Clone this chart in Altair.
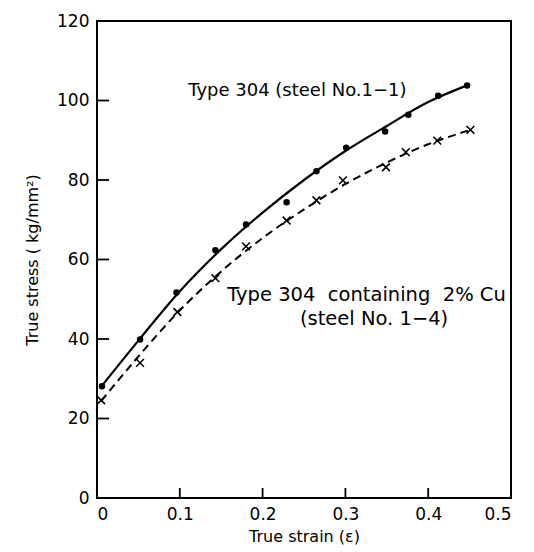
import altair as alt
import pandas as pd

# Measured points: Type 304 (steel No.1-1)
strain_304 = [0.006, 0.052, 0.096, 0.143, 0.180, 0.229, 0.265, 0.301, 0.348, 0.376, 0.412, 0.447]
stress_304 = [28.1, 39.9, 51.7, 62.3, 68.8, 74.4, 82.2, 88.1, 92.2, 96.4, 101.2, 103.8]
# Measured points: Type 304 containing 2% Cu (steel No.1-4)
strain_cu = [0.005, 0.052, 0.097, 0.143, 0.180, 0.229, 0.265, 0.297, 0.349, 0.373, 0.411, 0.451]
stress_cu = [24.6, 34.0, 46.8, 55.3, 63.3, 69.8, 74.9, 79.9, 83.2, 87.0, 89.9, 92.6]

# Fitted curves
curve_strain_304 = [0.005, 0.05, 0.1, 0.15, 0.2, 0.25, 0.3, 0.35, 0.4, 0.447]
curve_stress_304 = [28.0, 39.6, 52.0, 62.6, 71.8, 80.0, 87.3, 93.6, 99.6, 103.8]
curve_strain_cu = [0.005, 0.05, 0.1, 0.15, 0.2, 0.25, 0.3, 0.35, 0.4, 0.451]
curve_stress_cu = [24.4, 35.6, 47.2, 57.0, 65.4, 72.6, 79.0, 84.4, 89.0, 92.6]

x_tick_values = [0, 0.1, 0.2, 0.3, 0.4, 0.5]
y_tick_values = [0, 20, 40, 60, 80, 100, 120]
x_inner_ticks = [0.1, 0.2, 0.3, 0.4]
y_inner_ticks = [20, 40, 60, 80, 100]

label_304 = "Type 304 (steel No.1\u22121)"
label_cu_1 = "Type 304\u00a0 containing\u00a0 2% Cu"
label_cu_2 = "(steel No. 1\u22124)"

FONT = "DejaVu Sans"

xs = alt.Scale(domain=[0, 0.5], nice=False, zero=False)
ys = alt.Scale(domain=[0, 120], nice=False, zero=False)

x_axis = alt.Axis(values=x_tick_values, title="True strain (\u03b5)",
                  labelExpr="datum.value == 0 ? '0' : format(datum.value, '.1f')",
                  titlePadding=6)
y_axis = alt.Axis(values=y_tick_values, title="True stress ( kg/mm\u00b2)", titlePadding=16)

df304 = pd.DataFrame({"strain": strain_304, "stress": stress_304})
dfcu = pd.DataFrame({"strain": strain_cu, "stress": stress_cu})
c304 = pd.DataFrame({"strain": curve_strain_304, "stress": curve_stress_304})
ccu = pd.DataFrame({"strain": curve_strain_cu, "stress": curve_stress_cu})

line304 = alt.Chart(c304).mark_line(color="black", strokeWidth=2.2, interpolate="monotone").encode(
    x=alt.X("strain:Q", scale=xs, axis=x_axis),
    y=alt.Y("stress:Q", scale=ys, axis=y_axis),
)
linecu = alt.Chart(ccu).mark_line(color="black", strokeWidth=2, strokeDash=[8, 5], interpolate="monotone").encode(
    x=alt.X("strain:Q", scale=xs),
    y=alt.Y("stress:Q", scale=ys),
)
dots = alt.Chart(df304).mark_point(shape="circle", filled=True, color="black", size=42, opacity=1).encode(
    x=alt.X("strain:Q", scale=xs),
    y=alt.Y("stress:Q", scale=ys),
)
crosses = alt.Chart(dfcu).mark_point(shape="M-1,-1L1,1M-1,1L1,-1", filled=False, color="black",
                                     strokeWidth=1.6, size=60, opacity=1).encode(
    x=alt.X("strain:Q", scale=xs),
    y=alt.Y("stress:Q", scale=ys),
)

# inner tick marks, placed from the tick values through the scales
xt = alt.Chart(pd.DataFrame({"strain": x_inner_ticks})).mark_tick(
    color="black", thickness=1.8, size=10, orient="vertical", opacity=1
).encode(
    x=alt.X("strain:Q", scale=xs),
    y=alt.datum(1.25, scale=ys),
)
yt = alt.Chart(pd.DataFrame({"stress": y_inner_ticks})).mark_tick(
    color="black", thickness=1.8, size=12, orient="horizontal", opacity=1
).encode(
    y=alt.Y("stress:Q", scale=ys),
    x=alt.datum(0.0073, scale=xs),
)

def label(txt, x, y, size):
    return alt.Chart(pd.DataFrame({"t": [txt]})).mark_text(
        font=FONT, fontSize=size, color="black", align="center", baseline="middle"
    ).encode(x=alt.datum(x, scale=xs), y=alt.datum(y, scale=ys), text="t:N")

t1 = label(label_304, 0.242, 102.5, 18)
t2 = label(label_cu_1, 0.3255, 51.0, 19.5)
t3 = label(label_cu_2, 0.3346, 45.0, 19.5)

chart = alt.layer(line304, linecu, dots, crosses, xt, yt, t1, t2, t3).properties(
    width=414, height=477,
    padding={"left": 89, "top": 13, "right": 15, "bottom": 52},
    autosize=alt.AutoSizeParams(type="none"),
    background="white",
).configure_view(
    stroke="black", strokeWidth=2
).configure_axis(
    domain=False, ticks=False, grid=False,
    labelFont=FONT, labelFontSize=17, labelColor="black", labelPadding=8,
    titleFont=FONT, titleFontSize=16, titleFontWeight="normal", titleColor="black",
)

chart.save("out.html", embed_options={"renderer": "svg", "actions": False})
